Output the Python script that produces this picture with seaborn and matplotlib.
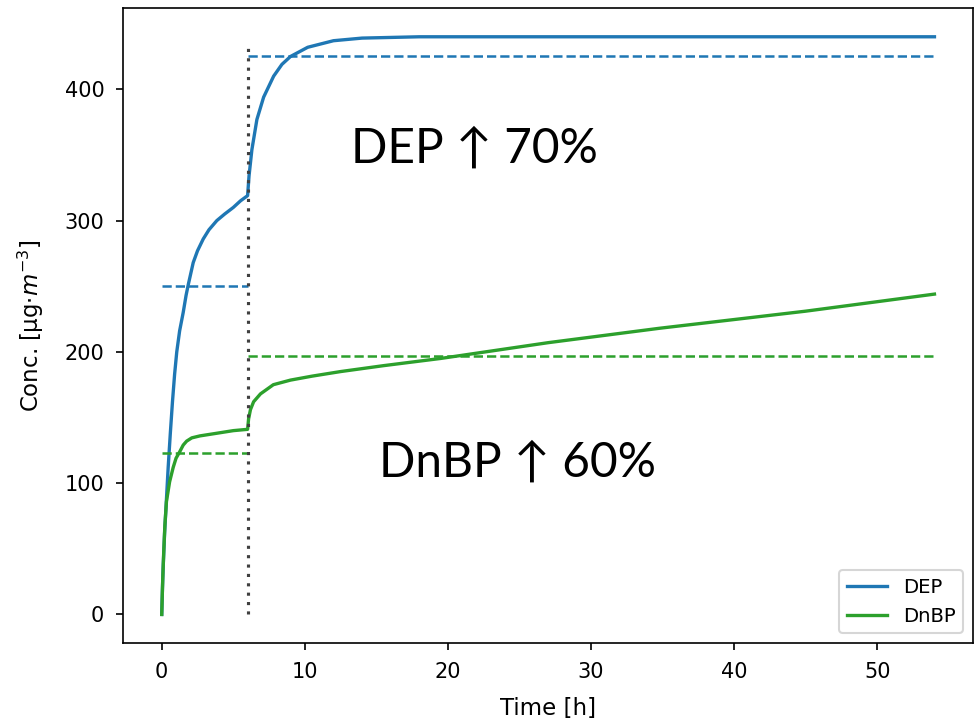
import matplotlib
matplotlib.use("Agg")
import matplotlib.pyplot as plt
import seaborn as sns
import pandas as pd

# Datos
time_dep = [0, 0.05, 0.1, 0.2, 0.3, 0.45, 0.6, 0.75, 0.9, 1.05, 1.25, 1.5, 1.7,
            1.85, 2.2, 2.5, 2.9, 3.3, 3.85, 4.4, 5.0, 5.5, 6.0,
            6.1, 6.3, 6.65, 7.12, 7.82, 8.4, 9.0, 10.2, 12.0, 14.0, 18.0, 30, 54]
dep = [0, 20, 36, 62, 82, 112, 138, 162, 183, 200, 216, 230, 243,
       251, 268, 277, 286, 293, 300, 305, 310, 315, 319,
       334, 354, 377, 394, 410, 419, 425, 432, 437, 439, 440, 440, 440]

time_dnbp = [0, 0.07, 0.14, 0.22, 0.33, 0.55, 0.8, 1.0, 1.26, 1.5, 1.74, 2.1,
             2.67, 3.84, 5.0, 6.0,
             6.07, 6.2, 6.42, 6.9, 7.8, 9.0, 10.5, 12.5, 15.5, 19.5, 27, 34.8, 45, 54]
dnbp = [0, 27, 48, 68, 86, 101, 112, 119, 124, 129, 132, 134.5,
        136, 138, 140, 141,
        149, 156, 162, 168, 175, 178.5, 181.5, 185, 189.5, 195, 207, 218, 231, 244]

# niveles de referencia (antes / después del cambio a t = 6 h)
t_switch = 6
t_end = 54
dep_ref = [250, 425]
dnbp_ref = [123, 197]
vline_top = 435

blue = "#1f77b4"
green = "#2ca02c"

df_dep = pd.DataFrame({"Time": time_dep, "Conc": dep})
df_dnbp = pd.DataFrame({"Time": time_dnbp, "Conc": dnbp})

fig, ax = plt.subplots(figsize=(977 / 150, 718 / 150), dpi=150)
fig.subplots_adjust(left=0.126, right=0.996, bottom=0.104, top=0.989)

sns.lineplot(data=df_dep, x="Time", y="Conc", color=blue, lw=1.6, label="DEP", ax=ax)
sns.lineplot(data=df_dnbp, x="Time", y="Conc", color=green, lw=1.6, label="DnBP", ax=ax)

# líneas de referencia discontinuas
ax.hlines(dep_ref[0], 0, t_switch, colors=blue, linestyles="--", lw=1.2)
ax.hlines(dep_ref[1], t_switch, t_end, colors=blue, linestyles="--", lw=1.2)
ax.hlines(dnbp_ref[0], 0, t_switch, colors=green, linestyles="--", lw=1.2)
ax.hlines(dnbp_ref[1], t_switch, t_end, colors=green, linestyles="--", lw=1.2)

# línea vertical punteada en el cambio
ax.vlines(t_switch, 0, vline_top, colors="#404040", linestyles=(0, (1, 2)), lw=1.5)

# anotaciones grandes
ax.text(13.2, 355, "DEP \u2191 70%", fontsize=23, va="center", ha="left",
        family=["Lato", "DejaVu Sans"])
ax.text(15.2, 116, "DnBP \u2191 60%", fontsize=23, va="center", ha="left",
        family=["Lato", "DejaVu Sans"])

ax.set_xlabel("Time [h]", fontsize=11, labelpad=7)
ax.set_ylabel(r"Conc. [µg$\cdot m^{-3}$]", fontsize=11, labelpad=9)
ax.set_xticks([0, 10, 20, 30, 40, 50])
ax.set_yticks([0, 100, 200, 300, 400])
ax.tick_params(axis="both", pad=5.5)

ax.legend(loc="lower right", fontsize=9.5)

plt.savefig("out.png", dpi=150)
